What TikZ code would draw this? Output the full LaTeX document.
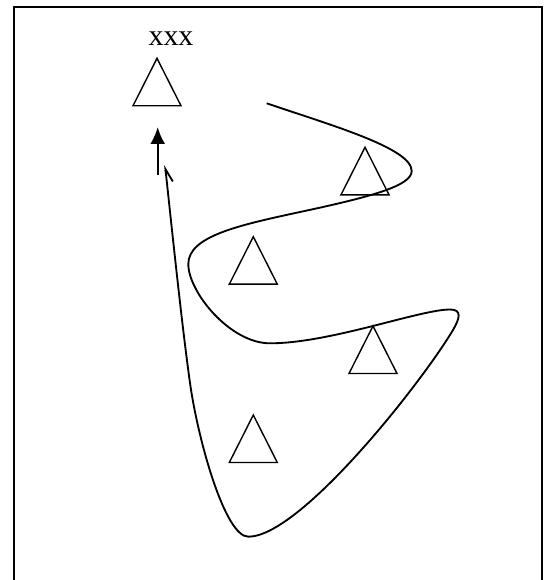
\documentclass[tikz,border=0pt]{standalone}
\usepackage{fontspec}
\setmainfont{Liberation Serif}
\usetikzlibrary{
    arrows.meta,  % For arrow tips
    positioning   % For label positioning
}

\begin{document}
\begin{tikzpicture}[
    x=0.02cm, y=-0.02cm, % pixel-like units, y pointing down
    frame/.style={line width=0.85pt},       % Style for the outer frame
    tri/.style={line width=0.8pt, line join=miter}, % Style for triangles
    route/.style={line width=1.05pt},       % Style for the winding path
    mainarrow/.style={line width=1.3pt, -{Latex[length=3.4mm, width=3mm]}}
]
    \useasboundingbox (0,0) rectangle (550,580);
    \clip (0,0) rectangle (550,580);

    % Frame (runs off the bottom)
    \draw[frame] (14,7) rectangle (542,620);

    % Triangles (apex coordinates)
    \foreach \x/\y in {157/58.3, 365/147.3, 253.3/236.7, 373/326, 253.3/415}
        \draw[tri] (\x,\y) -- ++(-24,47.5) -- ++(48,0) -- cycle;

    % Label above the top triangle
    \node[font=\fontsize{17}{20}\selectfont, inner sep=0pt] (lab) at (171,38.5) {xxx};

    % Arrow below the top triangle
    \coordinate (arrowS) at (157.7,175);
    \coordinate (arrowE) at (157.7,127);
    \draw[mainarrow] (arrowS) -- (arrowE);

    % Key points of the winding path
    \coordinate (start) at (266.7,103.3);
    \coordinate (bendR) at (411.7,171);   % Right bend
    \coordinate (midA)  at (300,212);
    \coordinate (bendL) at (188.3,264);   % Left bend
    \coordinate (dip)   at (270,343.3);
    \coordinate (topR)  at (450,309.5);   % Right bend (lower)
    \coordinate (turnR) at (453,330);
    \coordinate (bot)   at (248.3,536.7); % Bottom
    \coordinate (midD)  at (190,383);
    \coordinate (stop)  at (165,165);     % End near arrow

    % Draw the winding path with a thin open tip at its end
    \draw[route, -{Straight Barb[right, length=2.6mm, width=2.4mm]}]
        (start) .. controls (330,125) and (411.7,148) .. (bendR)
                .. controls (411.7,186) and (370,197) .. (midA)
                .. controls (240,225) and (188.3,236) .. (bendL)
                .. controls (188.3,292) and (230,343.3) .. (dip)
                .. controls (330,343.3) and (420,309.5) .. (topR)
                .. controls (462,309.5) and (460,318) .. (turnR)
                .. controls (420,385) and (300,536.7) .. (bot)
                .. controls (225,536.7) and (198,440) .. (midD)
                .. controls (182,326) and (172,230) .. (stop);

\end{tikzpicture}
\end{document}
